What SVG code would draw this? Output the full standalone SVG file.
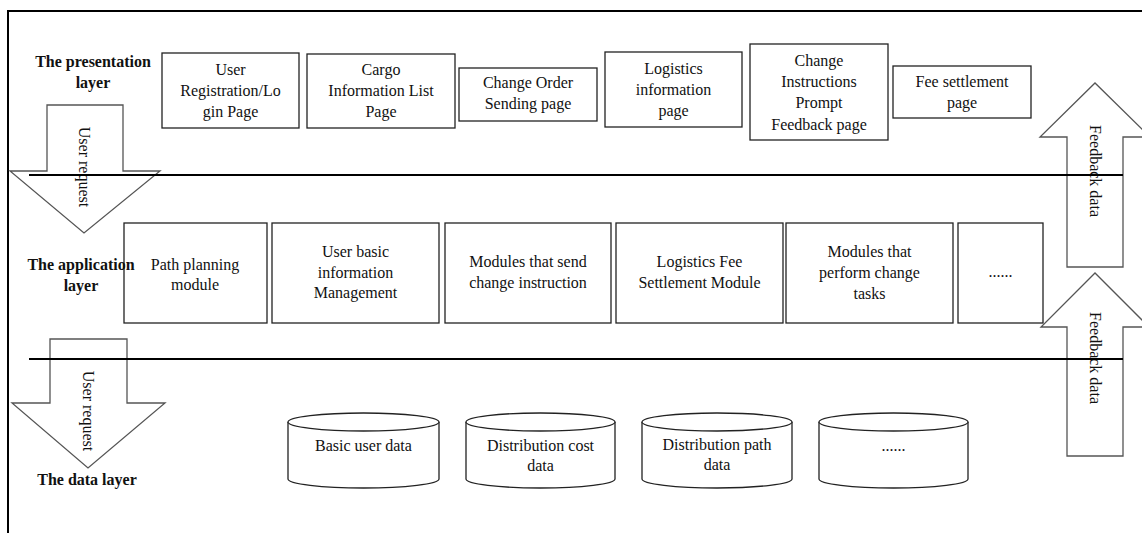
<svg xmlns="http://www.w3.org/2000/svg" width="1142" height="533" viewBox="0 0 1142 533">
  <style>
    text { font-family: "Liberation Serif", "Times New Roman", serif; font-size: 16px; fill: #111; }
    .lbl { text-anchor: middle; }
    .layer { font-weight: bold; text-anchor: middle; }
    .box { fill: #fff; stroke: #222; stroke-width: 1.3; }
    .cyl { fill: #fff; stroke: #222; stroke-width: 1.3; }
    .arrow { fill: none; stroke: #555; stroke-width: 1.3; }
    .rule { stroke: #000; stroke-width: 2; }
  </style>

  <!-- outer frame -->
  <g id="frame">
    <line class="rule" x1="8" y1="11" x2="1142" y2="11" stroke-width="2.5"/>
    <line class="rule" x1="8" y1="10" x2="8" y2="533" stroke-width="2"/>
  </g>

  <!-- layer labels -->
  <g id="layer-presentation">
    <text class="layer" x="93" y="67">The presentation</text>
    <text class="layer" x="93" y="88">layer</text>
  </g>

  <!-- presentation layer pages -->
  <g id="page-register">
    <rect class="box" x="162" y="53" width="137" height="75"/>
    <text class="lbl" x="230.5" y="75">User</text>
    <text class="lbl" x="230.5" y="96">Registration/Lo</text>
    <text class="lbl" x="230.5" y="117">gin Page</text>
  </g>
  <g id="page-cargo">
    <rect class="box" x="307" y="54" width="148" height="74"/>
    <text class="lbl" x="381" y="75">Cargo</text>
    <text class="lbl" x="381" y="96">Information List</text>
    <text class="lbl" x="381" y="117">Page</text>
  </g>
  <g id="page-change-order">
    <rect class="box" x="459" y="68" width="138" height="53"/>
    <text class="lbl" x="528" y="88">Change Order</text>
    <text class="lbl" x="528" y="109">Sending page</text>
  </g>
  <g id="page-logistics">
    <rect class="box" x="605" y="52" width="137" height="75"/>
    <text class="lbl" x="673.5" y="74">Logistics</text>
    <text class="lbl" x="673.5" y="95">information</text>
    <text class="lbl" x="673.5" y="116">page</text>
  </g>
  <g id="page-feedback">
    <rect class="box" x="750" y="44" width="138" height="96"/>
    <text class="lbl" x="819" y="66">Change</text>
    <text class="lbl" x="819" y="87">Instructions</text>
    <text class="lbl" x="819" y="108">Prompt</text>
    <text class="lbl" x="819" y="130">Feedback page</text>
  </g>
  <g id="page-fee">
    <rect class="box" x="893" y="66" width="138" height="52"/>
    <text class="lbl" x="962" y="87">Fee settlement</text>
    <text class="lbl" x="962" y="108">page</text>
  </g>

  <!-- application layer modules -->
  <g id="mod-path">
    <rect class="box" x="124" y="223" width="143" height="100"/>
    <text class="lbl" x="195" y="270">Path planning</text>
    <text class="lbl" x="195" y="290">module</text>
  </g>
  <g id="layer-application">
    <text class="layer" x="81" y="270">The application</text>
    <text class="layer" x="81" y="291">layer</text>
  </g>
  <g id="mod-user">
    <rect class="box" x="272" y="223" width="167" height="100"/>
    <text class="lbl" x="355.5" y="257">User basic</text>
    <text class="lbl" x="355.5" y="278">information</text>
    <text class="lbl" x="355.5" y="298">Management</text>
  </g>
  <g id="mod-send">
    <rect class="box" x="445" y="223" width="166" height="100"/>
    <text class="lbl" x="528" y="267">Modules that send</text>
    <text class="lbl" x="528" y="288">change instruction</text>
  </g>
  <g id="mod-fee">
    <rect class="box" x="616" y="223" width="167" height="100"/>
    <text class="lbl" x="699.5" y="267">Logistics Fee</text>
    <text class="lbl" x="699.5" y="288">Settlement Module</text>
  </g>
  <g id="mod-perform">
    <rect class="box" x="786" y="223" width="167" height="100"/>
    <text class="lbl" x="869.5" y="257">Modules that</text>
    <text class="lbl" x="869.5" y="278">perform change</text>
    <text class="lbl" x="869.5" y="299">tasks</text>
  </g>
  <g id="mod-more">
    <rect class="box" x="958" y="223" width="85" height="100"/>
    <text class="lbl" x="1000.5" y="277">......</text>
  </g>

  <!-- data layer stores -->
  <g id="layer-data">
    <text class="layer" x="87" y="485">The data layer</text>
  </g>
  <g id="db-user">
    <path class="cyl" d="M288,422 V479 A75.5,9 0 0 0 439,479 V422"/>
    <ellipse class="cyl" cx="363.5" cy="422" rx="75.5" ry="9"/>
    <text class="lbl" x="363.5" y="451">Basic user data</text>
  </g>
  <g id="db-cost">
    <path class="cyl" d="M466,422 V479 A74.5,9 0 0 0 615,479 V422"/>
    <ellipse class="cyl" cx="540.5" cy="422" rx="74.5" ry="9"/>
    <text class="lbl" x="540.5" y="451">Distribution cost</text>
    <text class="lbl" x="540.5" y="471">data</text>
  </g>
  <g id="db-path">
    <path class="cyl" d="M642,422 V479 A75,9 0 0 0 792,479 V422"/>
    <ellipse class="cyl" cx="717" cy="422" rx="75" ry="9"/>
    <text class="lbl" x="717" y="450">Distribution path</text>
    <text class="lbl" x="717" y="470">data</text>
  </g>
  <g id="db-more">
    <path class="cyl" d="M819,422 V479 A74.5,9 0 0 0 968,479 V422"/>
    <ellipse class="cyl" cx="893.5" cy="422" rx="74.5" ry="9"/>
    <text class="lbl" x="893.5" y="451">......</text>
  </g>

  <!-- flow arrows between layers -->
  <g id="connectors">
    <g id="req-top">
      <path class="arrow" d="M47,105 H123 V171 H160 L84,233 L10,171 H47 Z"/>
      <text class="lbl" transform="translate(84,167) rotate(90)" y="5">User request</text>
    </g>
    <g id="req-bottom">
      <path class="arrow" d="M50,339 H127 V403 H165 L88,468 L12,403 H50 Z"/>
      <text class="lbl" transform="translate(88,411) rotate(90)" y="5">User request</text>
    </g>
    <g id="fb-top">
      <path class="arrow" d="M1067,267 V137 H1040 L1095,83 L1150,137 H1123 V267 Z"/>
      <text class="lbl" transform="translate(1095,171) rotate(90)" y="5">Feedback data</text>
    </g>
    <g id="fb-bottom">
      <path class="arrow" d="M1067,456 V327 H1041 L1095,273 L1149,327 H1123 V456 Z"/>
      <text class="lbl" transform="translate(1095,358) rotate(90)" y="5">Feedback data</text>
    </g>
  </g>

  <!-- layer dividers -->
  <g id="dividers">
    <line class="rule" x1="29" y1="175" x2="1123" y2="175"/>
    <line class="rule" x1="29" y1="359" x2="1123" y2="359"/>
  </g>
</svg>
